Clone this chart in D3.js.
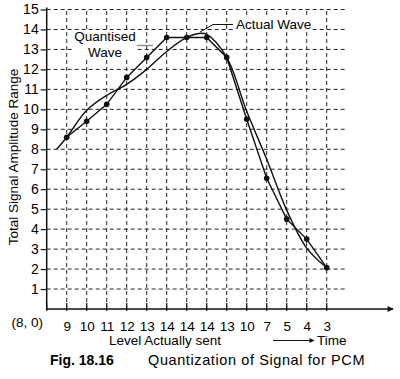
<!DOCTYPE html>
<html><head><meta charset="utf-8">
<script src="https://cdn.jsdelivr.net/npm/d3@7"></script>
<style>
html,body{margin:0;padding:0;background:#fff;}
text{font-family:"Liberation Sans",Arial,sans-serif;fill:#000;}
</style>
</head><body>
<svg id="chart" width="400" height="379"></svg>
<script>
// ---- data ----
const levelLabels = ["9","10","11","12","13","14","14","14","13","10","7","5","4","3"];
const originLabel = "(8, 0)";
const yTickValues = [1,2,3,4,5,6,7,8,9,10,11,12,13,14,15];
const quantisedValues = [8.6, 9.4, 10.25, 11.6, 12.6, 13.6, 13.6, 13.6, 12.6, 9.5, 6.55, 4.5, 3.5, 2.07];
const actualTimes = [0.5, 1, 2, 3, 4, 5, 6, 7, 7.6, 8, 9, 10, 11, 12, 13, 14];
const actualValues = [8.0, 8.6, 9.95, 10.7, 11.25, 12.0, 12.9, 13.6, 13.8, 13.75, 12.6, 9.9, 7.5, 4.95, 3.05, 2.07];
const yTitle = "Total Signal Amplitude Range";
const xTitle = "Level Actually sent";
const timeLabel = "Time";
const figLabel = "Fig. 18.16";
const caption = "Quantization of Signal for PCM";

// ---- scales ----
const svg = d3.select("#chart");
const x = d3.scaleLinear().domain([0, 15]).range([46.7, 346.7]);
const y = d3.scaleLinear().domain([0, 15]).range([309, 9.5]);

// grid
const grid = svg.append("g").attr("stroke", "#222").attr("stroke-width", 1).attr("stroke-dasharray", "4,3");
grid.selectAll("line.h").data(yTickValues).join("line")
  .attr("x1", x(0)).attr("x2", x(15)).attr("y1", d => y(d)).attr("y2", d => y(d));
grid.selectAll("line.v").data(levelLabels.map((d, i) => i + 1)).join("line")
  .attr("x1", d => x(d)).attr("x2", d => x(d)).attr("y1", y(0)).attr("y2", y(15));

// y axis
const yAxis = d3.axisLeft(y).tickValues(yTickValues).tickSize(6).tickPadding(2).tickFormat(d3.format("d"));
const gy = svg.append("g").attr("transform", `translate(${x(0)},0)`).call(yAxis);
gy.select(".domain").remove();
gy.selectAll("text").attr("font-size", 14).style("font-family", '"Liberation Sans",Arial,sans-serif').attr("fill", "#000");
gy.selectAll(".tick line").attr("stroke", "#111").attr("stroke-width", 1.2);
svg.append("line").attr("x1", x(0)).attr("x2", x(0)).attr("y1", y(0)).attr("y2", y(15) - 2)
  .attr("stroke", "#111").attr("stroke-width", 1.5);

// x axis
const xTickIdx = [0].concat(levelLabels.map((d, i) => i + 1));
const xAxis = d3.axisBottom(x).tickValues(xTickIdx).tickSize(0).tickPadding(12)
  .tickFormat(d => d === 0 ? "" : levelLabels[d - 1]);
const gx = svg.append("g").attr("transform", `translate(0,${y(0)})`).call(xAxis);
gx.select(".domain").remove();
gx.selectAll("text").attr("font-size", 13.5).style("font-family", '"Liberation Sans",Arial,sans-serif').attr("fill", "#000");
svg.append("g").selectAll("line").data(xTickIdx).join("line")
  .attr("x1", d => x(d)).attr("x2", d => x(d)).attr("y1", y(0) - 6).attr("y2", y(0) + 2)
  .attr("stroke", "#111").attr("stroke-width", 1.2);
svg.append("defs").append("marker").attr("id", "arr").attr("viewBox", "0 0 10 10")
  .attr("refX", 9).attr("refY", 5).attr("markerWidth", 8).attr("markerHeight", 6)
  .attr("markerUnits", "userSpaceOnUse").attr("orient", "auto")
  .append("path").attr("d", "M0,0L10,5L0,10Z").attr("fill", "#111");
svg.append("line").attr("x1", x(0)).attr("x2", 393).attr("y1", y(0)).attr("y2", y(0))
  .attr("stroke", "#111").attr("stroke-width", 1.5).attr("marker-end", "url(#arr)");
svg.append("text").attr("x", 43).attr("y", 327).attr("text-anchor", "end").attr("font-size", 13.5).text(originLabel);

// lines
const actualPts = actualTimes.map((t, i) => [t, actualValues[i]]);
const quantPts = quantisedValues.map((v, i) => [i + 1, v]);
const actualLine = d3.line().x(d => x(d[0])).y(d => y(d[1])).curve(d3.curveCatmullRom.alpha(0.5));
const quantLine = d3.line().x(d => x(d[0])).y(d => y(d[1]));
svg.append("path").attr("d", actualLine(actualPts)).attr("fill", "none").attr("stroke", "#111").attr("stroke-width", 1.4);
svg.append("path").attr("d", quantLine(quantPts)).attr("fill", "none").attr("stroke", "#111").attr("stroke-width", 1.4);
svg.append("g").selectAll("circle").data(quantPts).join("circle")
  .attr("cx", d => x(d[0])).attr("cy", d => y(d[1])).attr("r", 2.8).attr("fill", "#111");

// annotations
svg.append("rect").attr("x", 73).attr("y", 30).attr("width", 64).attr("height", 30).attr("fill", "#fff");
svg.append("text").attr("x", 105).attr("y", 41).attr("text-anchor", "middle").attr("font-size", 13.5).text("Quantised");
svg.append("text").attr("x", 105).attr("y", 57).attr("text-anchor", "middle").attr("font-size", 13.5).text("Wave");
svg.append("line").attr("x1", 137).attr("x2", 153).attr("y1", 45.5).attr("y2", 45.5).attr("stroke", "#888").attr("stroke-width", 1.3);

svg.append("rect").attr("x", 234).attr("y", 16).attr("width", 77).attr("height", 15).attr("fill", "#fff");
svg.append("text").attr("x", 236).attr("y", 28.5).attr("font-size", 13.5).text("Actual Wave");
svg.append("path").attr("d", "M233,24.5L213,24.5L200,32").attr("fill", "none").attr("stroke", "#111").attr("stroke-width", 1);

// titles
svg.append("text").attr("transform", "translate(18,157) rotate(-90)").attr("text-anchor", "middle")
  .attr("font-size", 13.5).text(yTitle);
svg.append("text").attr("x", 165).attr("y", 345).attr("text-anchor", "middle").attr("font-size", 13.5).text(xTitle);
const marker2 = svg.select("defs").append("marker").attr("id", "arr2").attr("viewBox", "0 0 10 10")
  .attr("refX", 9).attr("refY", 5).attr("markerWidth", 7).attr("markerHeight", 5)
  .attr("markerUnits", "userSpaceOnUse").attr("orient", "auto");
marker2.append("path").attr("d", "M0,0L10,5L0,10Z").attr("fill", "#111");
svg.append("line").attr("x1", 273).attr("x2", 314).attr("y1", 340.5).attr("y2", 340.5)
  .attr("stroke", "#111").attr("stroke-width", 1).attr("marker-end", "url(#arr2)");
svg.append("text").attr("x", 317).attr("y", 345).attr("font-size", 13.5).text(timeLabel);
svg.append("text").attr("x", 50).attr("y", 365).attr("font-size", 14).attr("font-weight", "bold").text(figLabel);
svg.append("text").attr("x", 148).attr("y", 365).attr("font-size", 14.5).attr("letter-spacing", 0.6).text(caption);
</script>
</body></html>
